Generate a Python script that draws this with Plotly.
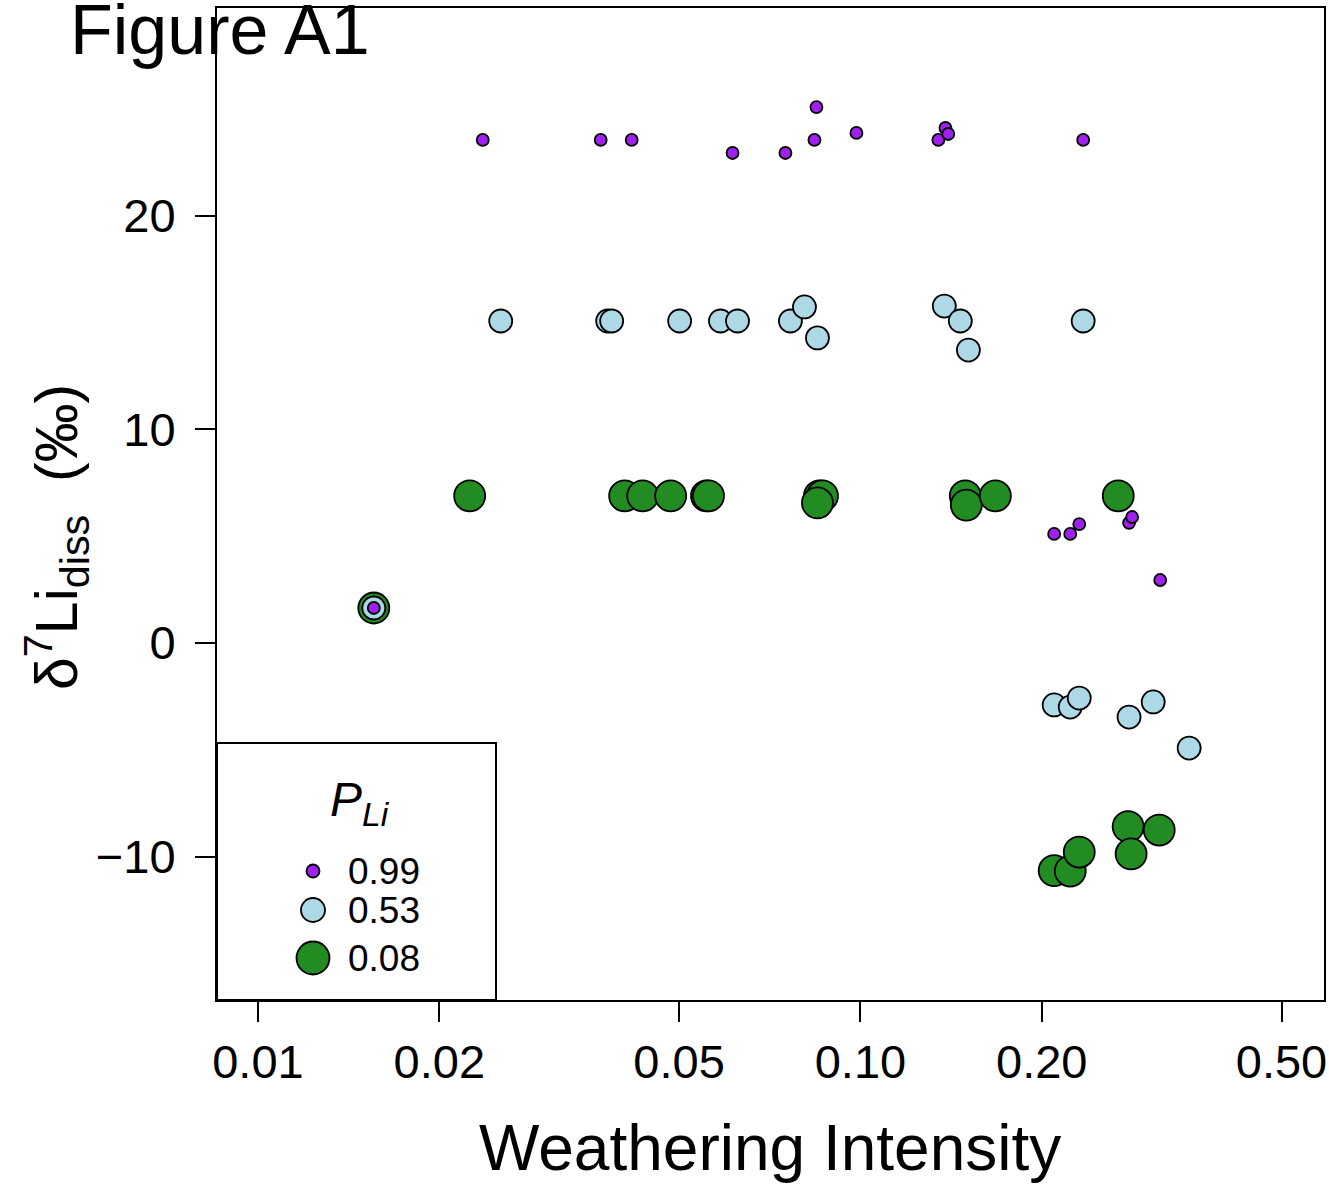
import plotly.graph_objects as go

# ---- data ----
# P_Li = 0.99 (purple, small)
wi_p99 = [0.01557, 0.02361, 0.03706, 0.04172, 0.06134, 0.07508, 0.08389, 0.08453, 0.09849,
          0.1347, 0.1384, 0.1399, 0.2343, 0.2097, 0.2230, 0.2308, 0.2792, 0.2825, 0.3145]
d7li_p99 = [1.64, 23.56, 23.56, 23.56, 22.95, 22.95, 23.56, 25.1, 23.89,
            23.56, 24.12, 23.84, 23.56, 5.11, 5.11, 5.57, 5.63, 5.90, 2.95]

# P_Li = 0.53 (light blue, medium)
wi_p53 = [0.01557, 0.02529, 0.03806, 0.03865, 0.05011, 0.05858, 0.06252, 0.07653, 0.08075, 0.08486,
          0.1378, 0.1465, 0.1511, 0.2343, 0.2097, 0.2230, 0.2308, 0.2792, 0.3062, 0.3513]
d7li_p53 = [1.64, 15.08, 15.08, 15.08, 15.08, 15.08, 15.08, 15.08, 15.74, 14.29,
            15.78, 15.08, 13.72, 15.08, -2.90, -3.00, -2.58, -3.47, -2.76, -4.92]

# P_Li = 0.08 (green, large)
wi_p08 = [0.01557, 0.02246, 0.04061, 0.04351, 0.04842, 0.05553, 0.05596, 0.08551, 0.08650, 0.08486,
          0.1493, 0.1499, 0.1675, 0.2679, 0.2097, 0.2230, 0.2308, 0.2782, 0.2814, 0.3133]
d7li_p08 = [1.64, 6.89, 6.89, 6.89, 6.89, 6.89, 6.89, 6.89, 6.89, 6.56,
            6.89, 6.46, 6.89, 6.89, -10.66, -10.68, -9.79, -8.60, -9.88, -8.76]

legend_labels = ["0.99", "0.53", "0.08"]
x_tickvals = [0.01, 0.02, 0.05, 0.10, 0.20, 0.50]
x_ticktext = ["0.01", "0.02", "0.05", "0.10", "0.20", "0.50"]
y_tickvals = [-10, 0, 10, 20]

FONT = "Liberation Sans, Arial, Helvetica, sans-serif"
C_PURPLE = "#A020F0"
C_LBLUE = "#ADD8E6"
C_GREEN = "#228B22"

series = [
    (wi_p08, d7li_p08, C_GREEN, 31),
    (wi_p53, d7li_p53, C_LBLUE, 23),
    (wi_p99, d7li_p99, C_PURPLE, 12),
]

fig = go.Figure()
for xs, ys, col, sz in series:
    fig.add_trace(go.Scatter(
        x=xs, y=ys, mode="markers",
        marker=dict(size=sz, color=col, line=dict(color="black", width=1.8)),
        showlegend=False, hoverinfo="skip"))

W, H = 1329, 1185
L, R, T, B = 217, 5, 8, 185

fig.update_layout(
    width=W, height=H,
    margin=dict(l=L, r=R, t=T, b=B, autoexpand=False),
    paper_bgcolor="white", plot_bgcolor="white",
    font=dict(family=FONT, color="black"),
    showlegend=False,
)
fig.update_xaxes(
    type="log", range=[-2.068, -0.2305],
    tickvals=x_tickvals, ticktext=x_ticktext,
    tickfont=dict(size=47, family=FONT, color="black"),
    ticks="outside", ticklen=20, tickwidth=1.5, tickcolor="black",
    showline=True, linecolor="black", linewidth=2, mirror=True,
    showgrid=False, zeroline=False,
)
fig.update_yaxes(
    range=[-16.72, 29.74],
    tickvals=y_tickvals,
    tickfont=dict(size=47, family=FONT, color="black"),
    ticks="outside", ticklen=20, tickwidth=1.5, tickcolor="black",
    ticklabelstandoff=10,
    showline=True, linecolor="black", linewidth=2, mirror=True,
    showgrid=False, zeroline=False,
)

PW = W - L - R
PH = H - T - B

def px2paper_x(px):
    return (px - L) / PW

def px2paper_y(py):
    return (H - B - py) / PH

anns = []
# Figure label
anns.append(dict(text="Figure A1", xref="paper", yref="paper",
                 x=px2paper_x(68), y=px2paper_y(30), xanchor="left", yanchor="middle",
                 showarrow=False, font=dict(size=70, family=FONT, color="black")))
# x title
anns.append(dict(text="Weathering Intensity", xref="paper", yref="paper",
                 x=px2paper_x(770), y=px2paper_y(1148), xanchor="center", yanchor="middle",
                 showarrow=False, font=dict(size=64, family=FONT, color="black")))
# y title
anns.append(dict(text="δ<sup>7</sup>Li<sub>diss</sub>  (‰)", xref="paper", yref="paper",
                 x=px2paper_x(56), y=px2paper_y(537), xanchor="center", yanchor="middle",
                 textangle=-90, showarrow=False,
                 font=dict(size=59, family=FONT, color="black")))

shapes = []
# legend box
shapes.append(dict(type="rect", xref="paper", yref="paper",
                   x0=0, x1=px2paper_x(496), y0=0, y1=px2paper_y(743),
                   line=dict(color="black", width=2), fillcolor="white", layer="above"))
# legend title
anns.append(dict(text="<i>P<sub>Li</sub></i>", xref="paper", yref="paper",
                 x=px2paper_x(360), y=px2paper_y(803), xanchor="center", yanchor="middle",
                 showarrow=False, font=dict(size=48, family=FONT, color="black")))
leg_items = [(C_PURPLE, 13, 871), (C_LBLUE, 24, 910), (C_GREEN, 33, 958)]
for (col, d, py), lab in zip(leg_items, legend_labels):
    r = d / 2
    shapes.append(dict(type="circle", xref="paper", yref="paper",
                       xsizemode="pixel", ysizemode="pixel",
                       xanchor=px2paper_x(313), yanchor=px2paper_y(py),
                       x0=-r, x1=r, y0=-r, y1=r,
                       fillcolor=col, line=dict(color="black", width=1.8), layer="above"))
    anns.append(dict(text=lab, xref="paper", yref="paper",
                     x=px2paper_x(346), y=px2paper_y(py), xanchor="left", yanchor="middle",
                     showarrow=False, font=dict(size=37, family=FONT, color="black")))

fig.update_layout(annotations=anns, shapes=shapes)
fig.write_html("out.html")
